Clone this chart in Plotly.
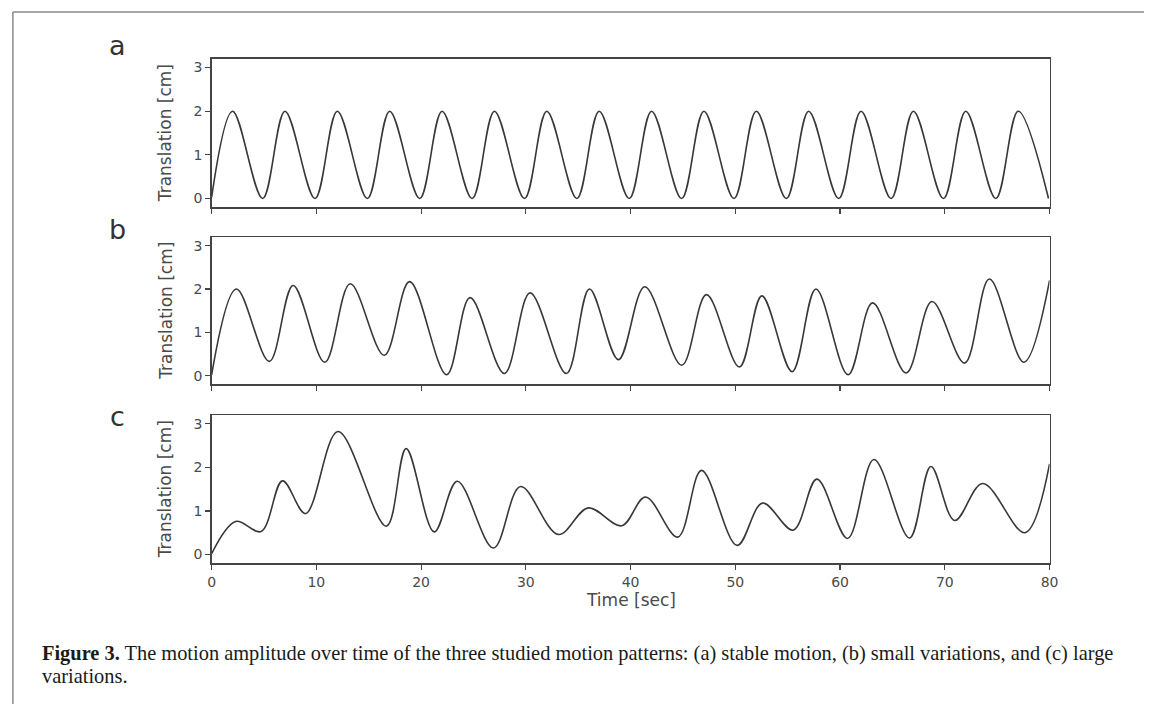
import plotly.graph_objects as go

W, H = 1153, 704

# ---------------- data ----------------
a_time = [0.0, 2.0, 4.87, 7.0, 9.87, 12.0, 14.87, 17.0, 19.87, 22.0, 24.87, 27.0, 29.87,
          32.0, 34.87, 37.0, 39.87, 42.0, 44.87, 47.0, 49.87, 52.0, 54.87, 57.0, 59.87,
          62.0, 64.87, 67.0, 69.87, 72.0, 74.87, 77.0, 79.9]
a_values = [0.03, 2.0, 0.0, 2.0, 0.0, 2.0, 0.0, 2.0, 0.0, 2.0, 0.0, 2.0, 0.0,
            2.0, 0.0, 2.0, 0.0, 2.0, 0.0, 2.0, 0.0, 2.0, 0.0, 2.0, 0.0,
            2.0, 0.0, 2.0, 0.0, 2.0, 0.0, 2.0, 0.0]

b_time = [0.0, 2.36, 5.51, 7.78, 10.8, 13.23, 16.48, 18.9, 22.43, 24.67, 27.95, 30.4,
          33.87, 36.07, 38.84, 41.35, 44.88, 47.24, 50.39, 52.53, 55.42, 57.69, 60.77,
          63.1, 66.31, 68.77, 71.89, 74.25, 77.55, 80.0]
b_values = [0.02, 2.0, 0.33, 2.08, 0.31, 2.12, 0.47, 2.17, 0.02, 1.8, 0.05, 1.91,
            0.05, 2.0, 0.37, 2.05, 0.24, 1.87, 0.2, 1.84, 0.09, 2.0, 0.02,
            1.68, 0.06, 1.71, 0.29, 2.23, 0.31, 2.2]

c_time = [0.0, 2.3, 4.72, 6.77, 8.97, 12.06, 16.68, 18.57, 21.25, 23.45, 26.91, 29.49,
          33.11, 35.95, 39.15, 41.42, 44.5, 46.77, 50.17, 52.59, 55.52, 57.78, 60.71,
          63.23, 66.63, 68.67, 70.94, 73.62, 77.65, 80.0]
c_values = [0.02, 0.76, 0.53, 1.69, 0.94, 2.82, 0.65, 2.43, 0.52, 1.68, 0.15, 1.56,
            0.46, 1.07, 0.66, 1.32, 0.4, 1.93, 0.21, 1.18, 0.56, 1.73, 0.37,
            2.18, 0.38, 2.02, 0.78, 1.63, 0.5, 2.08]

panel_labels = ["a", "b", "c"]
x_ticks = [0, 10, 20, 30, 40, 50, 60, 70, 80]
y_ticks = [0, 1, 2, 3]
y_title = "Translation [cm]"
x_title = "Time [sec]"
caption_bold = "Figure 3."
caption_line1 = (" The motion amplitude over time of the three studied motion patterns: "
                 "(a) stable motion, (b) small variations, and (c) large")
caption_line2 = "variations."

# ---------------- layout helpers ----------------
def px(x):
    return x / W

def py(y):
    return 1 - y / H

x_left, x_right = 210, 1057.5
panels_px = [(58.8, 207.3), (237.0, 384.3), (415.0, 563.3)]
label_y = [46, 230, 416]

AX = "#444444"
TXT = "#4a4a4a"
FONT = "DejaVu Sans"

fig = go.Figure()
series = [(a_time, a_values), (b_time, b_values), (c_time, c_values)]
for i, (t, v) in enumerate(series):
    sfx = "" if i == 0 else str(i + 1)
    fig.add_trace(go.Scatter(
        x=t, y=v, mode="lines",
        line=dict(color="#383838", width=1.6, shape="spline", smoothing=1.0),
        xaxis="x" + sfx, yaxis="y" + sfx, showlegend=False, hoverinfo="skip"))

layout = dict(
    width=W, height=H,
    margin=dict(l=0, r=0, t=0, b=0),
    paper_bgcolor="white", plot_bgcolor="white",
    font=dict(family=FONT, color=TXT),
    hovermode=False,
)
for i, (top, bot) in enumerate(panels_px):
    sfx = "" if i == 0 else str(i + 1)
    layout["xaxis" + sfx] = dict(
        domain=[px(x_left), px(x_right)], range=[0, 80],
        tickvals=x_ticks, ticks="outside", ticklen=5, tickwidth=1.2, tickcolor=AX,
        showline=True, linecolor=AX, linewidth=1.4, mirror=True,
        showgrid=False, zeroline=False,
        showticklabels=(i == 2), tickfont=dict(family=FONT, size=14, color=TXT),
        anchor="y" + sfx,
    )
    layout["yaxis" + sfx] = dict(
        domain=[py(bot), py(top)], range=[-0.2, 3.2],
        tickvals=y_ticks, ticks="outside", ticklen=5, tickwidth=1.2, tickcolor=AX,
        showline=True, linecolor=AX, linewidth=1.4, mirror=True,
        showgrid=False, zeroline=False,
        tickfont=dict(family=FONT, size=14, color=TXT),
        anchor="x" + sfx,
    )
fig.update_layout(**layout)

ann = []
for i, (top, bot) in enumerate(panels_px):
    ann.append(dict(x=px(163), y=py((top + bot) / 2), xref="paper", yref="paper",
                    text=y_title, textangle=-90, showarrow=False,
                    xanchor="center", yanchor="middle",
                    font=dict(family=FONT, size=17, color=TXT)))
    ann.append(dict(x=px(115), y=py(label_y[i]), xref="paper", yref="paper",
                    text=panel_labels[i], showarrow=False,
                    xanchor="center", yanchor="middle",
                    font=dict(family=FONT, size=27, color="#333333")))
ann.append(dict(x=px(634), y=py(600), xref="paper", yref="paper", text=x_title,
                showarrow=False, xanchor="center", yanchor="middle",
                font=dict(family=FONT, size=17, color=TXT)))
ann.append(dict(x=px(36), y=py(653), xref="paper", yref="paper",
                text="<b>" + caption_bold + "</b>" + caption_line1,
                showarrow=False, xanchor="left", yanchor="middle",
                font=dict(family="Liberation Serif", size=20.4, color="#1a1a1a")))
ann.append(dict(x=px(36), y=py(676), xref="paper", yref="paper",
                text=caption_line2,
                showarrow=False, xanchor="left", yanchor="middle",
                font=dict(family="Liberation Serif", size=20.4, color="#1a1a1a")))
fig.update_layout(annotations=ann)

# outer frame lines (top and left)
fig.add_shape(type="line", xref="paper", yref="paper",
              x0=px(9), x1=1, y0=py(12), y1=py(12),
              line=dict(color="#8a8a8a", width=1.5))
fig.add_shape(type="line", xref="paper", yref="paper",
              x0=px(9), x1=px(9), y0=py(12), y1=0,
              line=dict(color="#8a8a8a", width=1.5))

fig.write_html(
    "out.html",
    config={"displayModeBar": False, "staticPlot": True},
    post_script="document.body.style.margin='0';document.body.style.overflow='hidden';",
)
